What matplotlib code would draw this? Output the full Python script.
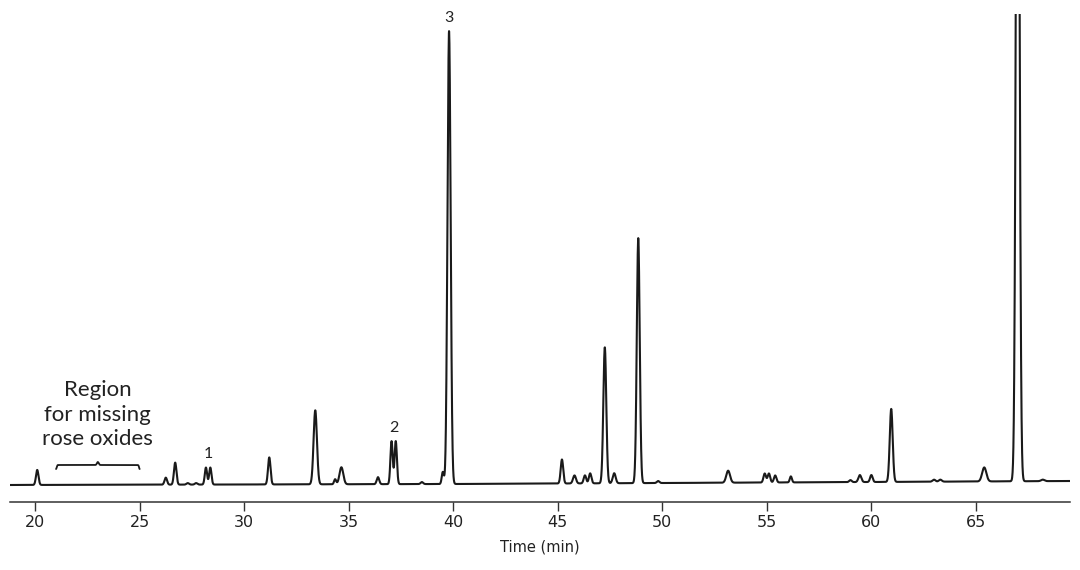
import numpy as np
import matplotlib
matplotlib.use("Agg")
import matplotlib.pyplot as plt

# peak table (time in min, height in arbitrary units)
peak_times = [20.1, 26.25, 26.7, 27.3, 27.7, 28.17, 28.38, 31.2, 33.4, 34.35, 34.65,
              36.4, 37.05, 37.25, 38.5, 39.5, 39.8, 45.2, 45.8, 46.3, 46.55,
              47.25, 47.7, 48.85, 49.8, 53.15, 54.9, 55.1, 55.4, 56.15,
              59.0, 59.45, 60.0, 60.95, 63.0, 63.3, 65.4, 67.0, 68.2]
peak_heights = [15, 7, 22, 1.5, 1.5, 17, 17, 27, 74, 5, 17,
                7, 43, 43, 2, 12, 453, 24, 8, 8, 10,
                136, 10, 245, 2, 12, 9, 9, 7, 6,
                2, 7, 7, 73, 2, 2, 14, 950, 1.5]
peak_sigmas = [0.06, 0.06, 0.06, 0.06, 0.06, 0.055, 0.055, 0.06, 0.08, 0.05, 0.09,
               0.06, 0.055, 0.055, 0.06, 0.05, 0.075, 0.06, 0.07, 0.06, 0.06,
               0.07, 0.07, 0.07, 0.06, 0.09, 0.06, 0.06, 0.06, 0.05,
               0.06, 0.07, 0.06, 0.07, 0.07, 0.07, 0.1, 0.08, 0.08]

# slow baseline drift
baseline_times = [18.8, 40, 50, 60, 69.5]
baseline_levels = [0, 1, 2, 3, 4]

# numbered peaks
label_times = [28.27, 37.15, 39.8]
label_heights = [17, 43, 453]
label_texts = ["1", "2", "3"]

region_start, region_end = 21.0, 25.0
region_text = "Region\nfor missing\nrose oxides"

x_ticks = [20, 25, 30, 35, 40, 45, 50, 55, 60, 65]

t = np.linspace(18.8, 69.5, 8000)
signal = np.interp(t, baseline_times, baseline_levels)
for mu, h, s in zip(peak_times, peak_heights, peak_sigmas):
    signal = signal + h * np.exp(-0.5 * ((t - mu) / s) ** 2)

fig = plt.figure(figsize=(10.8, 5.7), dpi=100)
ax = fig.add_axes([0.0093, 0.1193, 0.9814, 0.856])
ax.plot(t, signal, color="#1a1a1a", lw=1.5)
ax.set_xlim(18.8, 69.5)
ax.set_ylim(-17, 471)

for sp in ["top", "left", "right"]:
    ax.spines[sp].set_visible(False)
ax.spines["bottom"].set_linewidth(1.1)
ax.spines["bottom"].set_color("#333333")
ax.set_yticks([])
ax.set_xticks(x_ticks)
ax.tick_params(axis="x", length=6.5, width=1.0, color="#333333", pad=3,
               labelsize=11.5, labelcolor="#222222")
for lab in ax.get_xticklabels():
    lab.set_family(["Liberation Sans Narrow", "DejaVu Sans"])
ax.set_xlabel("Time (min)", fontsize=10.5, color="#222222", labelpad=7,
              family=["Liberation Sans Narrow", "DejaVu Sans"])

for lt, lh, txt in zip(label_times, label_heights, label_texts):
    ax.annotate(txt, (lt, lh), xytext=(0, 5), textcoords="offset points",
                ha="center", va="bottom", fontsize=11.5, color="#222222",
                family=["Lato", "DejaVu Sans"], annotation_clip=False)

# curly brace over the empty region
brace_y = 20
bx = np.linspace(region_start, region_end, 400)
half = (region_end - region_start) / 2
u = np.abs(bx - (region_start + half)) / half
by = brace_y - 4 * np.exp(-((1 - u) / 0.02) ** 2) + 3 * np.exp(-(u / 0.03) ** 2)
ax.plot(bx, by, color="#1a1a1a", lw=1.3, solid_capstyle="round")
ax.text((region_start + region_end) / 2, brace_y + 16, region_text,
        ha="center", va="bottom", fontsize=16, color="#222222",
        linespacing=1.27, family=["Lato", "DejaVu Sans"])

fig.savefig("out.png", dpi=100)
